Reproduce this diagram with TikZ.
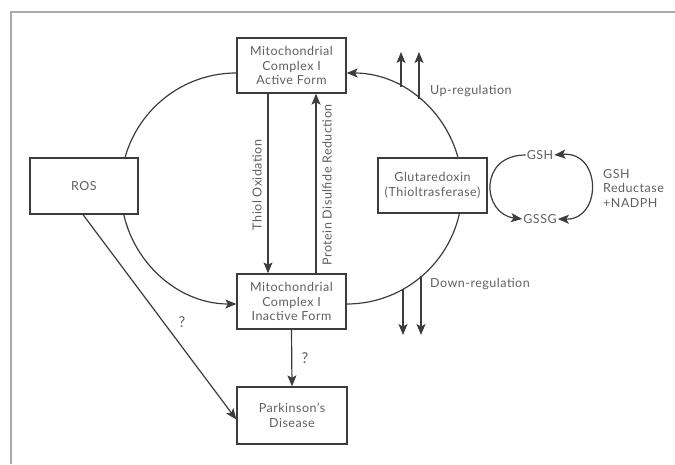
\documentclass[tikz,border=0pt]{standalone}
\usepackage{fontspec}
\setmainfont{Lato}[LetterSpace=4]
\usetikzlibrary{arrows.meta,calc,backgrounds}
\definecolor{linec}{HTML}{3C3C3C}
\definecolor{textc}{HTML}{606060}
\definecolor{framec}{HTML}{AAAAAA}
\tikzset{
  box/.style={draw=linec, fill=white, line width=1.3pt, minimum width=109pt, minimum height=55pt,
    align=center, inner sep=1pt, text=textc, font=\fontsize{12.5}{14.5}\selectfont},
  lbl/.style={text=textc, font=\fontsize{12.5}{14.5}\selectfont, inner sep=1pt},
  qlbl/.style={text=textc, font=\fontsize{15}{17}\selectfont, inner sep=1pt},
  conn/.style={draw=linec, line width=1.2pt, -{Stealth[length=11pt,width=9pt,inset=2.5pt]}},
}
\begin{document}
\begin{tikzpicture}[x=1pt,y=1pt]
\useasboundingbox (0,0) rectangle (675,464);
% frame
\draw[framec, line width=1.2pt] (675,452) -- (11,452) -- (11,0);

% boxes
\node[box] (active) at (291.5,398.5) {Mitochondrial\\Complex I\\Active Form};
\node[box] (inactive) at (291.5,162.5) {Mitochondrial\\Complex I\\Inactive Form};
\node[box, minimum width=110pt, minimum height=57pt] (park) at (292,48.5) {Parkinson's\\Disease};
\node[box, minimum width=108pt, minimum height=56pt] (ros) at (84,278) {ROS};
\node[box] (glut) at (432.5,278.5) {Glutaredoxin\\(Thioltrasferase)};

\node[lbl] (gsh) at (540,309) {GSH};
\node[lbl] (gssg) at (540,245) {GSSG};
\node[lbl, align=left, anchor=west] (red) at (602,276) {GSH\\Reductase\\+NADPH};

% big loop (behind the boxes)
\begin{pgfonlayer}{background}
\draw[conn] ([yshift=-7.5pt]active.west) arc[start angle=90, end angle=270, radius=115.5];
\draw[conn] ([yshift=-2.5pt]inactive.east) arc[start angle=-90, end angle=90, radius=115.5];
\end{pgfonlayer}

% vertical arrows between forms
\draw[conn] ([xshift=-23.5pt]active.south) -- ([xshift=-23.5pt]inactive.north);
\draw[conn] ([xshift=24.5pt]inactive.north) -- ([xshift=24.5pt]active.south);
\node[lbl, rotate=90] (thiol) at (257,279) {Thiol Oxidation};
\node[lbl, rotate=90] (pdr) at (327,279) {Protein Disulfide Reduction};

% up / down regulation
\coordinate (u1) at (401,377.1);
\coordinate (u2) at (419,365);
\coordinate (u1t) at (401,412);
\coordinate (u2t) at (419,412);
\draw[conn] (u1) -- (u1t);
\draw[conn] (u2) -- (u2t);
\node[lbl, anchor=west] (up) at (429,373) {Up-regulation};
\coordinate (d1) at (403,175);
\coordinate (d2) at (421,187.7);
\coordinate (d1t) at (403,129);
\coordinate (d2t) at (421,129);
\draw[conn] (d1) -- (d1t);
\draw[conn] (d2) -- (d2t);
\node[lbl, anchor=west] (down) at (429,180) {Down-regulation};

% GSH cycle
\draw[conn] (gsh.west) .. controls (478,309) and (482,250) .. (gssg.west);
\draw[conn, {Stealth[length=11pt,width=9pt,inset=2.5pt]}-{Stealth[length=11pt,width=9pt,inset=2.5pt]}]
  (gssg.east) .. controls (602,244) and (602,313) .. (gsh.east);

% to Parkinson's
\draw[conn] (inactive.south) -- (park.north);
\node[qlbl] (q2) at (305,106) {?};
\draw[conn] ([xshift=-1pt]ros.south) -- ([yshift=-4pt]park.west);
\node[qlbl] (q1) at (182,142) {?};
\end{tikzpicture}
\end{document}
